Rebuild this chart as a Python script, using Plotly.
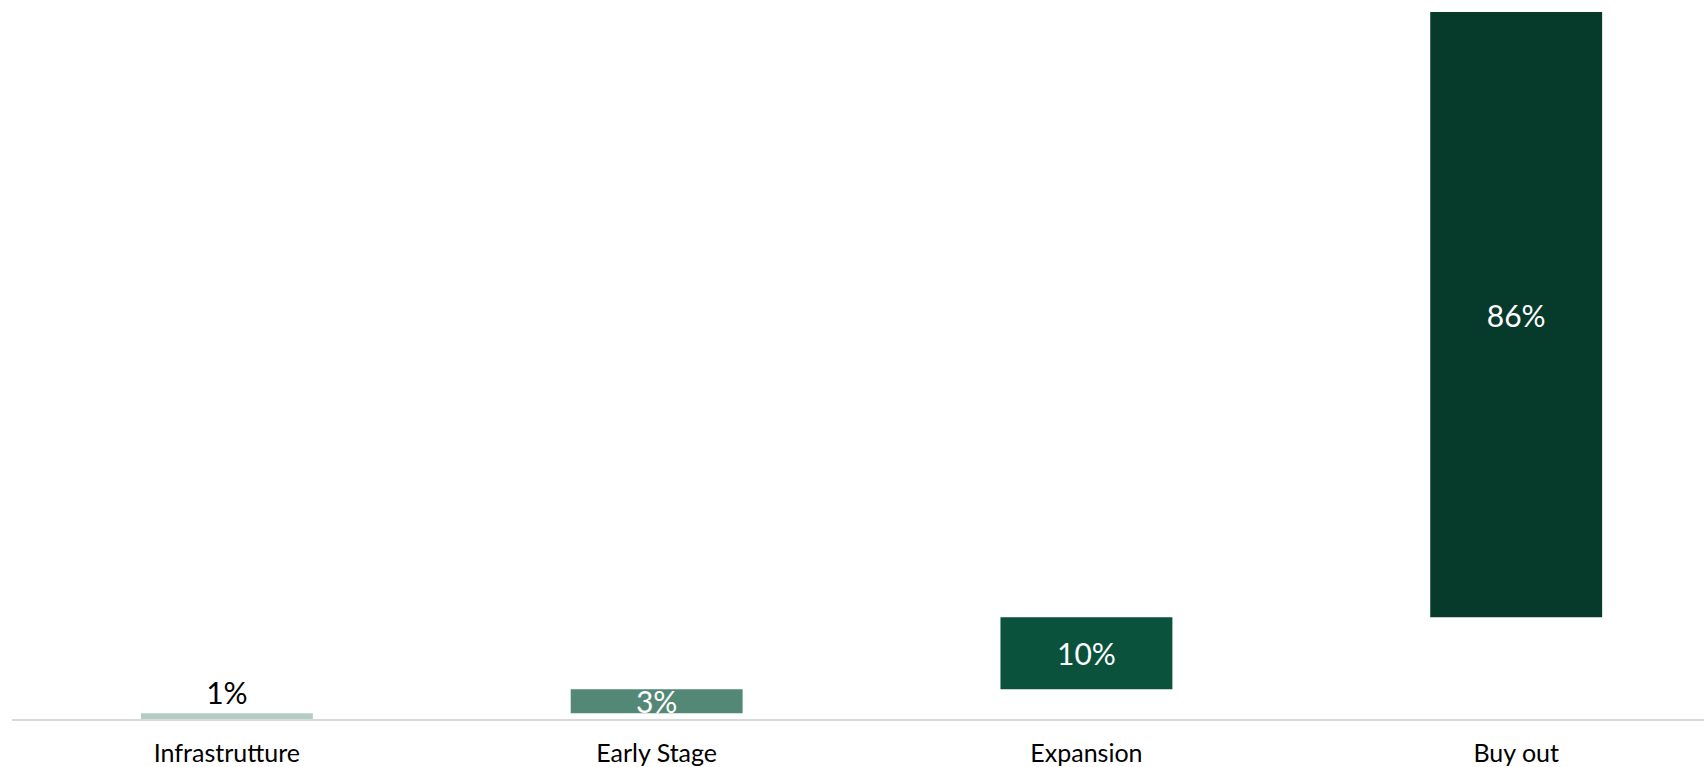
import numpy as np
import plotly.graph_objects as go

categories = ["Infrastrutture", "Early Stage", "Expansion", "Buy out"]
values = [0.8, 3.4, 10.2, 85.6]
bar_colors = ["#b4cdc3", "#538876", "#0a523b", "#063a2b"]
text_positions = ["outside", "inside", "inside", "inside"]

bases = np.concatenate([[0], np.cumsum(values)[:-1]])

fig = go.Figure(
    go.Bar(
        x=categories,
        y=values,
        base=bases,
        marker=dict(color=bar_colors, line=dict(width=0)),
        texttemplate="%{y:.0f}%",
        textposition=text_positions,
        insidetextanchor="middle",
        constraintext="none",
        cliponaxis=False,
        insidetextfont=dict(color="white", size=30, family="Lato"),
        outsidetextfont=dict(color="black", size=30, family="Lato"),
        hoverinfo="skip",
    )
)

fig.update_layout(
    width=1704,
    height=767,
    margin=dict(l=12, r=0, t=0, b=48),
    paper_bgcolor="white",
    plot_bgcolor="white",
    bargap=0.6,
    showlegend=False,
    font=dict(family="Lato", color="black"),
    xaxis=dict(
        range=[-0.5, 3.437],
        showgrid=False,
        showline=True,
        linecolor="#d9d9d9",
        linewidth=2,
        ticks="",
        ticklabelstandoff=11,
        tickfont=dict(size=25, family="Lato", color="black"),
    ),
    yaxis=dict(
        range=[0, 101.7],
        visible=False,
        showgrid=False,
        zeroline=False,
    ),
)

fig.write_html(
    "out.html",
    config={"displayModeBar": False},
    post_script="document.body.style.margin='0';document.body.style.overflow='hidden';",
)
